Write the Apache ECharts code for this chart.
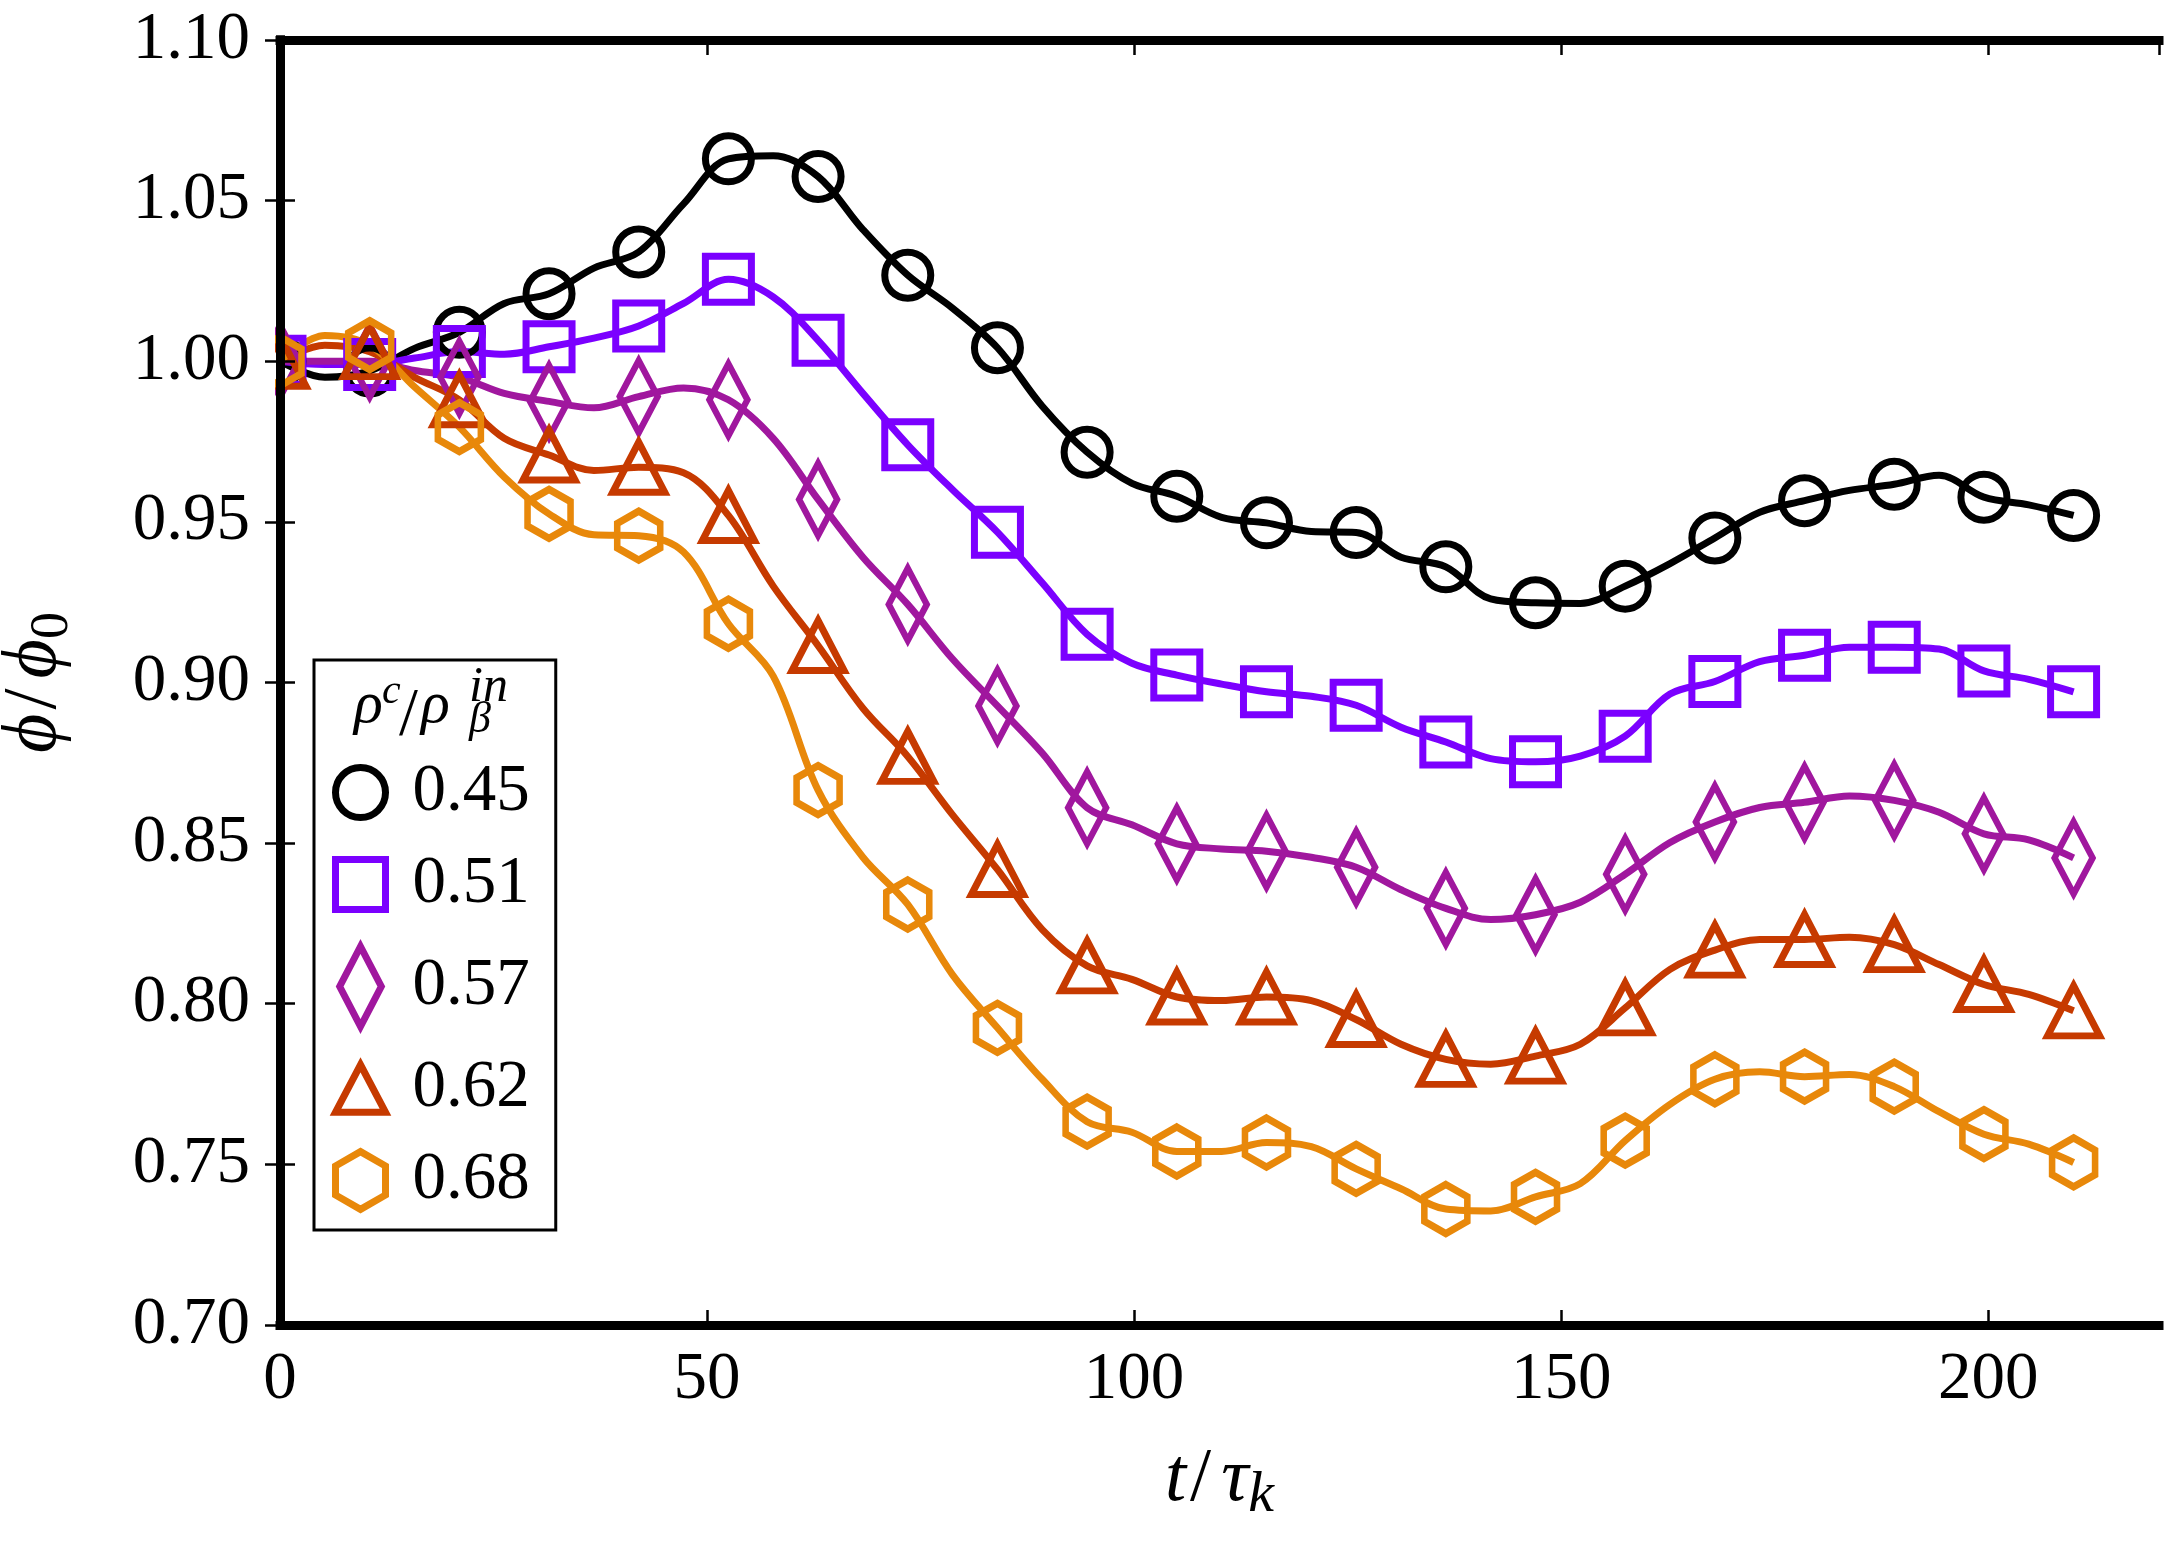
<!DOCTYPE html>
<html><head><meta charset="utf-8">
<script src="https://cdn.jsdelivr.net/npm/echarts@6/dist/echarts.min.js"></script>
<style>html,body{margin:0;padding:0;background:#fff}#c{width:2165px;height:1542px}</style>
</head><body><div id="c"></div>
<script>
// marker times (t / tau_k) and intermediate curve times
const markerT = [0,10.5,21,31.5,42,52.5,63,73.5,84,94.5,105,115.5,126,136.5,147,157.5,168,178.5,189,199.5,210];
const midT = [5.25,15.75,26.25,36.75,47.25,57.75,68.25,78.75,89.25,99.75,110.25,120.75,131.25,141.75,152.25,162.75,173.25,183.75,194.25,204.75];
const legendNames = ['0.45','0.51','0.57','0.62','0.68'];
const xTickValues = [0,50,100,150,200];
const yTickLabels = ['0.70','0.75','0.80','0.85','0.90','0.95','1.00','1.05','1.10'];

// marker values
const v045 = [1.000,0.997,1.009,1.021,1.034,1.063,1.0575,1.0268,1.0042,0.9717,0.958,0.9497,0.9467,0.936,0.9248,0.930,0.945,0.9566,0.9617,0.9577,0.952];
const v051 = [1.000,0.999,1.003,1.0045,1.011,1.0255,1.0065,0.974,0.9468,0.915,0.9023,0.8971,0.8929,0.8815,0.8753,0.8833,0.9003,0.9085,0.911,0.9036,0.8971];
const v057 = [1.000,1.000,0.995,0.9875,0.989,0.988,0.957,0.9243,0.8927,0.861,0.8498,0.8475,0.8425,0.8297,0.8277,0.8403,0.8566,0.8627,0.8633,0.8529,0.8454];
const v062 = [1.000,1.003,0.988,0.9708,0.967,0.952,0.9115,0.877,0.8418,0.8118,0.8021,0.8021,0.7951,0.7827,0.7837,0.7987,0.8167,0.820,0.8184,0.806,0.7978];
const v068 = [1.000,1.005,0.9795,0.9525,0.9457,0.9183,0.8665,0.8309,0.7925,0.7633,0.754,0.7568,0.7486,0.7361,0.7399,0.7574,0.7765,0.7773,0.7742,0.7594,0.7506];

// curve values between markers
const m045 = [0.995,1.004,1.018,1.029,1.049,1.064,1.041,1.0165,0.986,0.962,0.9514,0.947,0.939,0.926,0.9246,0.937,0.953,0.9598,0.9645,0.9553];
const m051 = [0.999,1.001,1.0022,1.0072,1.018,1.020,0.990,0.960,0.931,0.906,0.8995,0.8957,0.8861,0.8763,0.8771,0.8964,0.9065,0.911,0.9104,0.901];
const m057 = [1.000,0.9971,0.990,0.9855,0.9917,0.976,0.939,0.9073,0.878,0.8557,0.8482,0.8456,0.8355,0.8262,0.8316,0.8502,0.8611,0.8647,0.8596,0.851];
const m062 = [1.005,0.995,0.976,0.966,0.9653,0.930,0.892,0.8588,0.8231,0.8076,0.801,0.801,0.7874,0.7812,0.7874,0.8107,0.820,0.8207,0.8122,0.8029];
const m068 = [1.008,0.992,0.964,0.946,0.9406,0.902,0.8456,0.809,0.7765,0.760,0.754,0.7555,0.7424,0.7355,0.744,0.7687,0.7788,0.778,0.7664,0.7563];

const markerVals = [v045,v051,v057,v062,v068];
const midVals = [m045,m051,m057,m062,m068];
const colors = ['#000000','#7b00ff','#a0179e','#c63a00','#e8880a'];
const symbols = [
  'circle',
  'path://M-1,-1L1,-1L1,1L-1,1Z',
  'path://M0,-1L0.52,0L0,1L-0.52,0Z',
  'path://M0,-1L1,0.9L-1,0.9Z',
  'path://M0,-1L0.866,-0.5L0.866,0.5L0,1L-0.866,0.5L-0.866,-0.5Z'
];
const symbolSizes = [46,[46,46],[38,72],[52,50],[43,49]];

const FONT = 'Liberation Serif';
const series = [];
markerVals.forEach((vals, s) => {
  const lineData = [];
  vals.forEach((v, i) => {
    lineData.push([markerT[i], v]);
    if (i < midT.length) lineData.push([midT[i], midVals[s][i]]);
  });
  series.push({
    type: 'line', name: 'curve ' + legendNames[s], data: lineData,
    smooth: 0.35, symbol: 'none', showSymbol: false, silent: true,
    lineStyle: {color: colors[s], width: 7, opacity: 1}, z: 2
  });
  series.push({
    type: 'scatter', name: legendNames[s],
    data: vals.map((v, i) => [markerT[i], v]),
    symbol: symbols[s], symbolSize: symbolSizes[s],
    itemStyle: {color: 'transparent', borderColor: colors[s], borderWidth: 7, opacity: 1},
    z: 2
  });
});

const axisLineStyle = {show: true, lineStyle: {color: '#000', width: 9, cap: 'square'}};
const tickStyle = {show: true, inside: true, length: 15, lineStyle: {color: '#000', width: 2.5}};
const nameRich = {
  i: {fontFamily: FONT, fontStyle: 'italic', fontSize: 76, lineHeight: 90, color: '#000'},
  n: {fontFamily: FONT, fontSize: 76, lineHeight: 90, color: '#000', padding: [0, 10, 0, 4]},
  s: {fontFamily: FONT, fontStyle: 'italic', fontSize: 58, lineHeight: 58, verticalAlign: 'bottom', color: '#000'},
  u: {fontFamily: FONT, fontSize: 54, lineHeight: 54, verticalAlign: 'bottom', color: '#000'}
};
const titleText = (text, x, y, size, italic) => ({
  type: 'text', z: 20, x: x, y: y, silent: true,
  style: {text: text, fontFamily: FONT, fontSize: size, fontStyle: italic ? 'italic' : 'normal',
    fill: '#000', align: 'left', verticalAlign: 'middle'}
});

const chart = echarts.init(document.getElementById('c'));
chart.setOption({
  backgroundColor: '#fff',
  animation: false,
  grid: {left: 280, right: 6, top: 40, bottom: 217, containLabel: false, outerBoundsMode: 'none'},
  xAxis: [{
    type: 'value', min: 0, max: 220, interval: 50, position: 'bottom', z: 5,
    axisLine: axisLineStyle, axisTick: tickStyle, splitLine: {show: false},
    axisLabel: {show: true, showMaxLabel: false, margin: 22, color: '#000', fontFamily: FONT, fontSize: 67,
      formatter: v => xTickValues.indexOf(v) >= 0 ? String(v) : ''},
    name: '{i|t}{n|/}{i|τ}{s|k}', nameLocation: 'middle', nameGap: 110,
    nameTextStyle: {rich: nameRich}
  }, {
    type: 'value', min: 0, max: 220, interval: 50, position: 'top', z: 5,
    axisLine: axisLineStyle, axisTick: tickStyle, splitLine: {show: false}, axisLabel: {show: false}
  }],
  yAxis: [{
    type: 'value', min: 0.70, max: 1.10, interval: 0.05, position: 'left', z: 5,
    axisLine: axisLineStyle, axisTick: tickStyle, splitLine: {show: false},
    axisLabel: {margin: 30, color: '#000', fontFamily: FONT, fontSize: 67,
      formatter: v => yTickLabels[Math.round((v - 0.70) / 0.05)]},
    name: '{i|ϕ}{n|/}{i|ϕ}{u|0}', nameLocation: 'middle', nameRotate: 90, nameGap: 200,
    nameTextStyle: {rich: nameRich}
  }, {
    type: 'value', min: 0.70, max: 1.10, interval: 0.05, position: 'right', z: 5,
    axisLine: axisLineStyle, axisTick: tickStyle, splitLine: {show: false}, axisLabel: {show: false}
  }],
  legend: {
    data: legendNames, orient: 'vertical', left: 314, top: 660,
    padding: [99, 26, 16, 18], itemWidth: 50, itemHeight: 80, itemGap: 25,
    backgroundColor: '#fff', borderColor: '#000', borderWidth: 3, borderRadius: 0,
    selectedMode: false, symbolKeepAspect: true,
    itemStyle: {borderWidth: 7},
    textStyle: {fontFamily: FONT, fontSize: 67, color: '#000', padding: [0, 0, 0, 22]},
    z: 6
  },
  graphic: [
    {type: 'rect', z: 3, shape: {x: 0, y: 0, width: 275, height: 1542}, style: {fill: '#fff'}, silent: true},
    titleText('ρ', 354, 706, 60, true),
    titleText('c', 382, 692, 42, true),
    titleText('/', 399, 716, 68, false),
    titleText('ρ', 421, 706, 60, true),
    titleText('in', 469, 688, 50, true),
    titleText('β', 469, 720, 44, true)
  ],
  series: series
});
</script></body></html>
